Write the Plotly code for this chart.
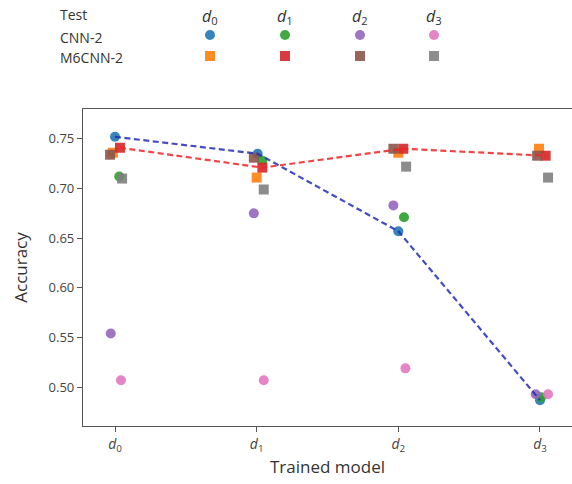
import plotly.graph_objects as go

# ---------------- data ----------------
trained_labels = ["<i>d</i><sub>0</sub>", "<i>d</i><sub>1</sub>", "<i>d</i><sub>2</sub>", "<i>d</i><sub>3</sub>"]
trained_pos = [0, 1, 2, 3]
test_labels = ["<i>d</i><sub>0</sub>", "<i>d</i><sub>1</sub>", "<i>d</i><sub>2</sub>", "<i>d</i><sub>3</sub>"]

# CNN-2 accuracy, one list per test set, indexed by trained model
cnn_test_d0 = [0.752, 0.735, 0.657, 0.487]
cnn_test_d1 = [0.712, 0.728, 0.671, 0.490]
cnn_test_d2 = [0.554, 0.675, 0.683, 0.493]
cnn_test_d3 = [0.507, 0.507, 0.519, 0.493]

# M6CNN-2 accuracy, one list per test set
m6_test_d0 = [0.736, 0.711, 0.736, 0.740]
m6_test_d1 = [0.741, 0.721, 0.740, 0.733]
m6_test_d2 = [0.734, 0.731, 0.740, 0.733]
m6_test_d3 = [0.710, 0.699, 0.722, 0.711]

# horizontal jitter of each series (data units)
cnn_jitter = [[0.0, 0.007, 0.0, 0.0],
              [0.03, 0.04, 0.04, 0.007],
              [-0.03, -0.02, -0.035, -0.03],
              [0.042, 0.05, 0.05, 0.057]]
m6_jitter = [[-0.015, 0.0, 0.0, -0.007],
             [0.035, 0.04, 0.035, 0.04],
             [-0.035, -0.02, -0.035, -0.02],
             [0.05, 0.05, 0.055, 0.057]]

cnn_colors = ["#1f77b4", "#2ca02c", "#9467bd", "#e377c2"]
m6_colors = ["#ff7f0e", "#d62728", "#8c564b", "#7f7f7f"]

cnn_series = [cnn_test_d0, cnn_test_d1, cnn_test_d2, cnn_test_d3]
m6_series = [m6_test_d0, m6_test_d1, m6_test_d2, m6_test_d3]

FONT = "Open Sans"
fig = go.Figure()

for i in range(4):
    xs_c = [p + j for p, j in zip(trained_pos, cnn_jitter[i])]
    fig.add_trace(go.Scatter(x=xs_c, y=cnn_series[i], mode="markers",
                             marker=dict(symbol="circle", size=10, color=cnn_colors[i], opacity=0.9,
                                         line=dict(width=0)),
                             showlegend=False, cliponaxis=False))
for i in range(4):
    xs_m = [p + j for p, j in zip(trained_pos, m6_jitter[i])]
    fig.add_trace(go.Scatter(x=xs_m, y=m6_series[i], mode="markers",
                             marker=dict(symbol="square", size=10, color=m6_colors[i], opacity=0.9,
                                         line=dict(width=0)),
                             showlegend=False, cliponaxis=False))

# dashed lines through CNN-2 on d0 and M6CNN-2 on d1
fig.add_trace(go.Scatter(x=[p + j for p, j in zip(trained_pos, cnn_jitter[0])], y=cnn_test_d0,
                         mode="lines", line=dict(color="rgba(35,45,185,0.85)", width=2.2, dash="6px,3.5px"),
                         showlegend=False))
fig.add_trace(go.Scatter(x=[p + j for p, j in zip(trained_pos, m6_jitter[1])], y=m6_test_d1,
                         mode="lines", line=dict(color="rgba(240,35,35,0.85)", width=2.2, dash="6px,3.5px"),
                         showlegend=False))

# ---------------- custom legend table ----------------
W, H = 572, 484
L, R, T, B = 83, 0, 109, 58
pw, ph = W - L - R, H - T - B

def px2x(px):
    return (px - L) / pw

def py2y(py):
    return (H - B - py) / ph

annotations = []
shapes = []
text_font = dict(family=FONT, size=14, color="#333333")
annotations.append(dict(text="Test", x=px2x(58), y=py2y(14), xref="paper", yref="paper",
                        xanchor="left", yanchor="middle", showarrow=False, font=text_font))
annotations.append(dict(text="CNN-2", x=px2x(58), y=py2y(37), xref="paper", yref="paper",
                        xanchor="left", yanchor="middle", showarrow=False, font=text_font))
annotations.append(dict(text="M6CNN-2", x=px2x(58), y=py2y(58), xref="paper", yref="paper",
                        xanchor="left", yanchor="middle", showarrow=False, font=text_font))
col_px = [210, 285, 360, 434]
for i in range(4):
    annotations.append(dict(text=test_labels[i], x=px2x(col_px[i]), y=py2y(16), xref="paper", yref="paper",
                            xanchor="center", yanchor="middle", showarrow=False,
                            font=dict(family=FONT, size=16, color="#333333")))
    shapes.append(dict(type="circle", xref="paper", yref="paper", xsizemode="pixel", ysizemode="pixel",
                       xanchor=px2x(col_px[i]), yanchor=py2y(35), x0=-5, x1=5, y0=-5, y1=5,
                       fillcolor=cnn_colors[i], line=dict(width=0), opacity=0.9))
    shapes.append(dict(type="rect", xref="paper", yref="paper", xsizemode="pixel", ysizemode="pixel",
                       xanchor=px2x(col_px[i]), yanchor=py2y(56), x0=-5, x1=5, y0=-5, y1=5,
                       fillcolor=m6_colors[i], line=dict(width=0), opacity=0.9))

fig.update_layout(
    width=W, height=H,
    margin=dict(l=L, r=R, t=T, b=B, pad=0),
    plot_bgcolor="white", paper_bgcolor="white",
    font=dict(family=FONT, color="#333333"),
    annotations=annotations, shapes=shapes,
    showlegend=False,
)
fig.update_xaxes(
    range=[-0.226, 3.226], tickmode="array", tickvals=trained_pos, ticktext=trained_labels,
    showgrid=False, zeroline=False, showline=True, linecolor="#555555", linewidth=1.2, mirror=True,
    ticks="outside", ticklen=5, tickcolor="#555555", tickfont=dict(family=FONT, size=14, color="#444444"),
    title=dict(text="Trained model", font=dict(family=FONT, size=17, color="#333333"), standoff=7),
)
fig.update_yaxes(
    range=[0.461, 0.780], tickmode="array", tickvals=[0.50, 0.55, 0.60, 0.65, 0.70, 0.75],
    ticktext=["0.50", "0.55", "0.60", "0.65", "0.70", "0.75"],
    showgrid=False, zeroline=False, showline=True, linecolor="#555555", linewidth=1.2, mirror=False,
    ticks="outside", ticklen=5, tickcolor="#555555", tickfont=dict(family=FONT, size=13, color="#444444"),
    title=dict(text="Accuracy", font=dict(family=FONT, size=17, color="#333333"), standoff=16),
)

fig.write_html("out.html")
